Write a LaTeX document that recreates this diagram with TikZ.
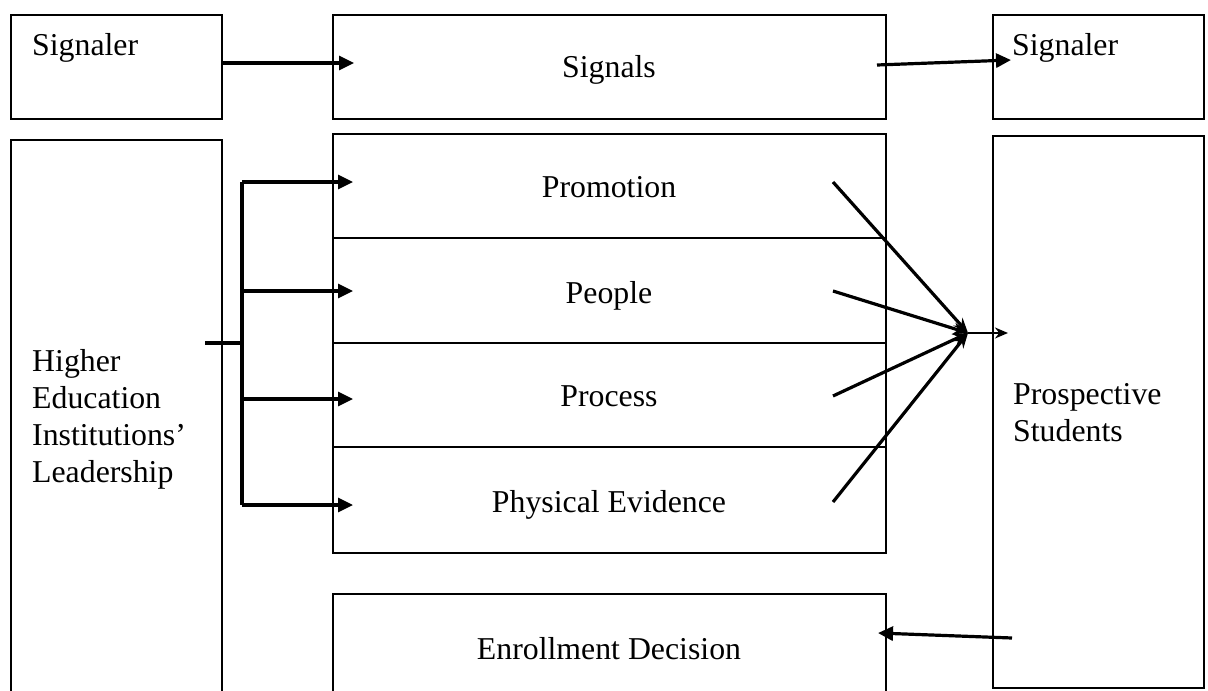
\documentclass[tikz,border=0pt]{standalone}
\usepackage{fontspec}
\setmainfont{Liberation Serif}
\usetikzlibrary{arrows.meta}
\begin{document}
\begin{tikzpicture}[x=1pt,y=-1pt,
  box/.style={draw, line width=2pt, rectangle, inner sep=0pt, anchor=north west},
  lbl/.style={font=\fontsize{31.8}{36.8}\selectfont, inner sep=0pt},
  arr/.style={line width=3.2pt, -{Triangle[length=15pt,width=14pt]}},
  conv/.style={line width=3.2pt, -{Stealth[length=15pt,width=12pt]}},
  thin arr/.style={line width=2.2pt, -{Stealth[length=13pt,width=11pt]}},
  ln/.style={line width=3.2pt}]
\useasboundingbox (0,0) rectangle (1208,691);
\clip (0,0) rectangle (1208,691);
% boxes
\node[box, minimum width=211pt, minimum height=104pt] (sigL) at (10,14) {};
\node[box, minimum width=553pt, minimum height=104pt] (sigs) at (332,14) {};
\node[box, minimum width=211pt, minimum height=104pt] (sigR) at (992,14) {};
\node[box, minimum width=211pt, minimum height=580pt] (hei) at (10,139) {};
\node[box, minimum width=553pt, minimum height=104pt] (prom) at (332,133) {};
\node[box, minimum width=553pt, minimum height=105pt] (peop) at (332,237) {};
\node[box, minimum width=553pt, minimum height=104pt] (proc) at (332,342) {};
\node[box, minimum width=553pt, minimum height=106pt] (phys) at (332,446) {};
\node[box, minimum width=211pt, minimum height=552pt] (stud) at (992,135) {};
\node[box, minimum width=553pt, minimum height=120pt] (enr) at (332,593) {};
% texts
\node[lbl, anchor=base west] (tSigL) at (32,55) {Signaler};
\node[lbl, anchor=base] (tSigs) at (609,77) {Signals};
\node[lbl, anchor=base west] (tSigR) at (1012,55) {Signaler};
\node[lbl, anchor=base west, align=left] (tHei) at (32,482) {Higher\\Education\\Institutions’\\Leadership};
\node[lbl, anchor=base] (tProm) at (609,197) {Promotion};
\node[lbl, anchor=base] (tPeop) at (609,303) {People};
\node[lbl, anchor=base] (tProc) at (609,406) {Process};
\node[lbl, anchor=base] (tPhys) at (609,512) {Physical Evidence};
\node[lbl, anchor=base west, align=left] (tStud) at (1013,441) {Prospective\\Students};
\node[lbl, anchor=base] (tEnr) at (609,659) {Enrollment Decision};
% connector coordinates
\coordinate (a1s) at (221,63);
\coordinate (a1e) at (354,63);
\coordinate (a2s) at (877,65);
\coordinate (a2e) at (1011,60);
\coordinate (stem) at (205,343);
\coordinate (bj) at (242,343);
\coordinate (b1) at (242,182);
\coordinate (b2) at (242,291);
\coordinate (b3) at (242,399);
\coordinate (b4) at (242,505);
\coordinate (e1) at (353,182);
\coordinate (e2) at (353,291);
\coordinate (e3) at (353,399);
\coordinate (e4) at (353,505);
\coordinate (c1) at (833,182);
\coordinate (c2) at (833,291);
\coordinate (c3) at (833,396);
\coordinate (c4) at (833,502);
\coordinate (hub) at (968,333);
\coordinate (out) at (1008,333);
\coordinate (ds) at (1012,638);
\coordinate (de) at (878,633);
% connectors
\draw[arr] (a1s) -- (a1e);
\draw[arr] (a2s) -- (a2e);
\draw[ln] (stem) -- (bj);
\draw[ln] (b1) -- (b4);
\draw[arr] (b1) -- (e1);
\draw[arr] (b2) -- (e2);
\draw[arr] (b3) -- (e3);
\draw[arr] (b4) -- (e4);
\draw[conv] (c1) -- (hub);
\draw[conv] (c2) -- (hub);
\draw[conv] (c3) -- (hub);
\draw[conv] (c4) -- (hub);
\draw[thin arr] (hub) -- (out);
\draw[arr] (ds) -- (de);
\end{tikzpicture}
\end{document}
